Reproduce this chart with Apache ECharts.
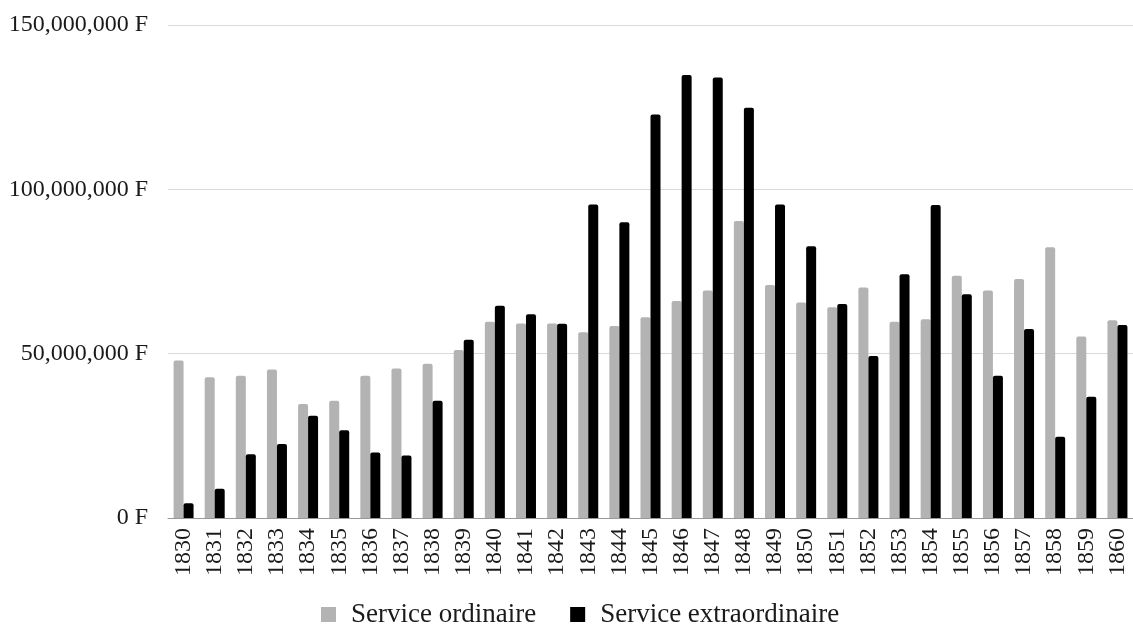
<!DOCTYPE html>
<html>
<head>
<meta charset="utf-8">
<script src="https://cdn.jsdelivr.net/npm/echarts@6/dist/echarts.min.js"></script>
<style>
  html, body { margin: 0; padding: 0; background: #fff; }
  #main { width: 1133px; height: 624px; }
</style>
</head>
<body>
<div id="main"></div>
<script>
var years = ['1830', '1831', '1832', '1833', '1834', '1835', '1836', '1837', '1838', '1839',
    '1840', '1841', '1842', '1843', '1844', '1845', '1846', '1847', '1848', '1849',
    '1850', '1851', '1852', '1853', '1854', '1855', '1856', '1857', '1858', '1859', '1860'];

// montants en francs
var ordinaire = [47900000, 42800000, 43300000, 45200000, 34700000, 35700000, 43300000, 45500000, 46900000, 51100000,
    59700000, 59200000, 59200000, 56500000, 58400000, 61100000, 66000000, 69200000, 90400000, 70900000,
    65600000, 64100000, 70100000, 59700000, 60500000, 73700000, 69200000, 72700000, 82400000, 55200000, 60200000];

var extraordinaire = [4500000, 8900000, 19400000, 22500000, 31100000, 26700000, 19900000, 19000000, 35700000, 54200000,
    64600000, 62000000, 59100000, 95400000, 90000000, 122800000, 134800000, 134000000, 124800000, 95400000,
    82700000, 65100000, 49300000, 74200000, 95200000, 68100000, 43300000, 57500000, 24700000, 36900000, 58700000];

var yTicks = [0, 50000000, 100000000, 150000000];

var fontName = '"Liberation Serif", "DejaVu Serif", serif';

var myChart = echarts.init(document.getElementById('main'));

function formatFranc(v) {
    return v.toString().replace(/\B(?=(\d{3})+(?!\d))/g, ',') + ' F';
}

var option = {
    animation: false,
    backgroundColor: '#ffffff',
    textStyle: { fontFamily: fontName },
    grid: {
        left: 168,
        top: 25,
        width: 970,
        bottom: 106
    },
    legend: {
        top: 596,
        left: 316,
        icon: 'rect',
        itemWidth: 15,
        itemHeight: 15,
        itemGap: 34,
        textStyle: { fontFamily: fontName, fontSize: 27, color: '#1a1a1a', padding: [0, 0, 0, 10] },
        data: ['Service ordinaire', 'Service extraordinaire']
    },
    xAxis: {
        type: 'category',
        data: years,
        axisTick: { show: false },
        axisLine: { lineStyle: { color: '#999', width: 1 } },
        axisLabel: {
            rotate: 90,
            margin: 10,
            interval: 0,
            fontFamily: fontName,
            fontSize: 24,
            color: '#1a1a1a'
        }
    },
    yAxis: {
        type: 'value',
        min: yTicks[0],
        max: yTicks[yTicks.length - 1],
        interval: 50000000,
        axisLine: { show: false },
        axisTick: { show: false },
        splitLine: { lineStyle: { color: '#d9d9d9', width: 1 } },
        axisLabel: {
            margin: 20,
            fontFamily: fontName,
            fontSize: 24,
            color: '#1a1a1a',
            formatter: formatFranc
        }
    },
    series: [{
        name: 'Service ordinaire',
        type: 'bar',
        data: ordinaire,
        barWidth: 10,
        barGap: '0%',
        itemStyle: { color: '#b3b3b3', borderRadius: [2, 2, 0, 0] }
    }, {
        name: 'Service extraordinaire',
        type: 'bar',
        data: extraordinaire,
        barWidth: 10,
        barGap: '0%',
        itemStyle: { color: '#000000', borderRadius: [2, 2, 0, 0] }
    }]
};

myChart.setOption(option);
</script>
</body>
</html>
